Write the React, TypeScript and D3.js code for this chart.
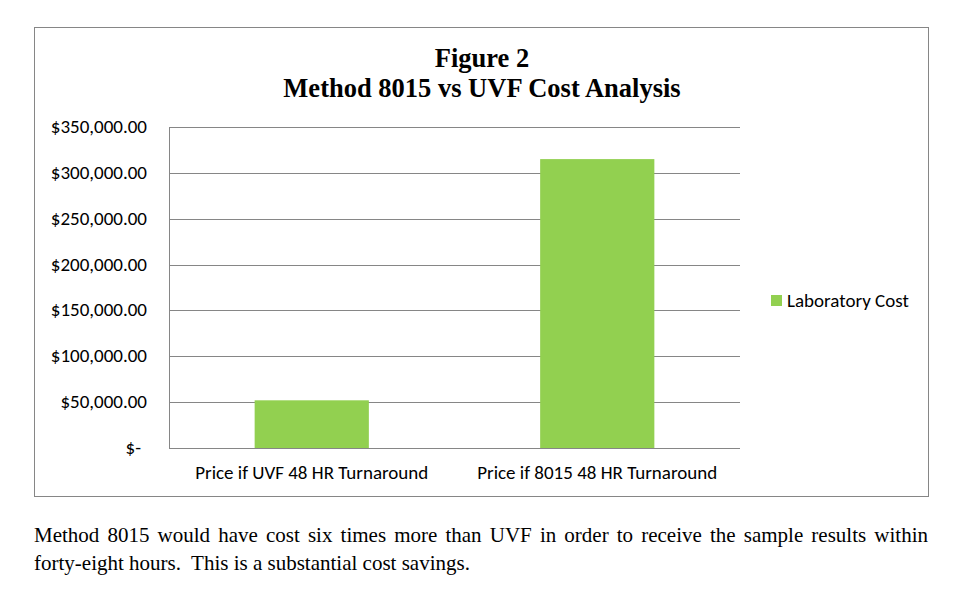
import React, { useEffect, useRef, useState } from "react";
import * as d3 from "d3";

const categories = ["Price if UVF 48 HR Turnaround", "Price if 8015 48 HR Turnaround"];
const laboratoryCost = [52000, 315000];
const yTicks = [0, 50000, 100000, 150000, 200000, 250000, 300000, 350000];
const seriesName = "Laboratory Cost";
const titleLines = ["Figure 2", "Method 8015 vs UVF Cost Analysis"];
const captionLines = [
  "Method 8015 would have cost six times more than UVF in order to receive the sample results within",
  "forty-eight hours.  This is a substantial cost savings.",
];

const W = 962;
const H = 591;
const plot = { left: 169, right: 740, top: 127, bottom: 448 };
const green = "#92d050";
const grid = "#868686";
const sansFont = "Carlito, Calibri, Lato, 'Open Sans', sans-serif";
const serifFont = "'Liberation Serif', 'Times New Roman', serif";

const fmt = (v: number) => (v === 0 ? "$-" : "$" + d3.format(",.2f")(v));

export default function App() {
  const x = d3
    .scaleBand<string>()
    .domain(categories)
    .range([plot.left, plot.right])
    .paddingInner(0.6)
    .paddingOuter(0.3);
  const y = d3.scaleLinear().domain([0, 350000]).range([plot.bottom, plot.top]);
  const band = (plot.right - plot.left) / categories.length;

  const line1Ref = useRef<SVGTextElement>(null);
  const [wordSpacing, setWordSpacing] = useState(0);
  useEffect(() => {
    const el = line1Ref.current;
    if (!el) return;
    const len = el.getComputedTextLength();
    const spaces = (captionLines[0].match(/ /g) || []).length;
    setWordSpacing(Math.max(0, (894 - len) / spaces));
  }, []);

  return (
    <svg
      width={W}
      height={H}
      style={{ position: "absolute", left: 0, top: 0, background: "#fff" }}
    >
      <rect x={0} y={0} width={W} height={H} fill="#fff" />
      <rect x={34.5} y={27.5} width={894} height={469} fill="#fff" stroke={grid} strokeWidth={1} />
      {titleLines.map((t, i) => (
        <text
          key={i}
          x={482}
          y={67 + i * 30}
          textAnchor="middle"
          fontFamily={serifFont}
          fontWeight="bold"
          fontSize={26.5}
          fill="#000"
        >
          {t}
        </text>
      ))}
      {yTicks.map((t) => (
        <g key={t}>
          {t > 0 && (
            <line
              x1={plot.left}
              x2={plot.right}
              y1={Math.round(y(t)) + 0.5}
              y2={Math.round(y(t)) + 0.5}
              stroke={grid}
              strokeWidth={1}
            />
          )}
          <text
            x={t === 0 ? 141 : 147}
            y={y(t) + 6}
            textAnchor="end"
            fontFamily={sansFont}
            fontSize={19}
            fill="#000"
          >
            {fmt(t)}
          </text>
        </g>
      ))}
      {laboratoryCost.map((v, i) => (
        <rect
          key={i}
          x={x(categories[i])}
          y={y(v)}
          width={x.bandwidth()}
          height={y(0) - y(v)}
          fill={green}
        />
      ))}
      <line x1={plot.left + 0.5} x2={plot.left + 0.5} y1={plot.top} y2={plot.bottom} stroke={grid} />
      <line x1={plot.left} x2={plot.right} y1={plot.bottom + 0.5} y2={plot.bottom + 0.5} stroke={grid} />
      {categories.map((c, i) => (
        <text
          key={c}
          x={plot.left + band * (i + 0.5)}
          y={479}
          textAnchor="middle"
          fontFamily={sansFont}
          fontSize={19}
          fill="#000"
        >
          {c}
        </text>
      ))}
      <rect x={771} y={295} width={11} height={11} fill={green} />
      <text x={787} y={307} fontFamily={sansFont} fontSize={19} fill="#000">
        {seriesName}
      </text>
      <text
        ref={line1Ref}
        x={34}
        y={542}
        fontFamily={serifFont}
        fontSize={21}
        fill="#000"
        wordSpacing={wordSpacing}
      >
        {captionLines[0]}
      </text>
      <text x={34} y={570} fontFamily={serifFont} fontSize={21} fill="#000" style={{ whiteSpace: "pre" }}>
        {captionLines[1]}
      </text>
    </svg>
  );
}
